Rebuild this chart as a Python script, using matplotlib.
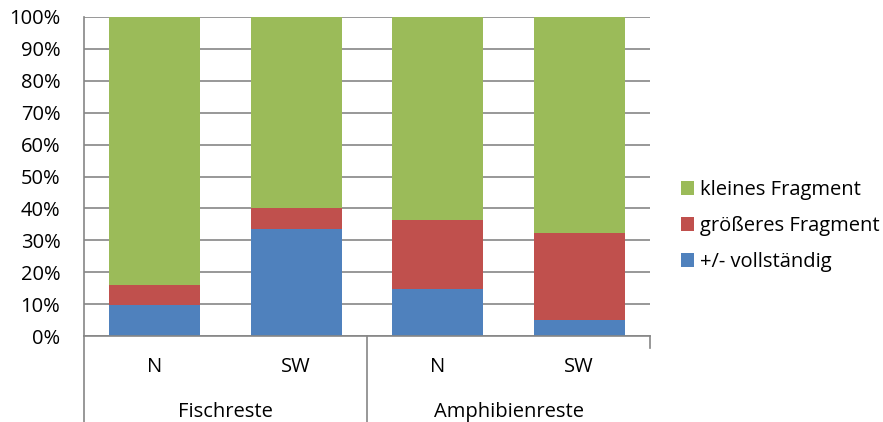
import matplotlib
matplotlib.use('Agg')
import matplotlib.pyplot as plt
from matplotlib.lines import Line2D

# dados
gruppen = ['Fischreste', 'Amphibienreste']
orte = ['N', 'SW', 'N', 'SW']
vollstaendig = [9.6, 33.6, 14.6, 4.9]
groesser = [6.3, 6.6, 21.9, 27.3]
klein = [84.1, 59.8, 63.5, 67.8]

cor_azul = '#4F81BD'
cor_verm = '#C0504D'
cor_verde = '#9BBB59'
cor_grade = '#868686'
fs = 14.5

plt.rcParams['font.family'] = ['Open Sans', 'DejaVu Sans']

fig = plt.figure(figsize=(8.83, 4.22), dpi=100)
ax = fig.add_axes([84 / 883, 1 - 336 / 422, 566 / 883, 319 / 422])

x = list(range(len(orte)))
larg = 0.64
base2 = [a + b for a, b in zip(vollstaendig, groesser)]
ax.bar(x, vollstaendig, larg, color=cor_azul, label='+/- vollständig', zorder=2)
ax.bar(x, groesser, larg, bottom=vollstaendig, color=cor_verm, label='größeres Fragment', zorder=2)
ax.bar(x, klein, larg, bottom=base2, color=cor_verde, label='kleines Fragment', zorder=2)

ax.set_xlim(-0.5, 3.5)
ax.set_ylim(0, 100)
ax.set_yticks(range(0, 101, 10))
ax.set_yticklabels([f'{v}%' for v in range(0, 101, 10)], fontsize=fs)
ax.yaxis.grid(True, color=cor_grade, linewidth=1.2, zorder=0)
ax.set_axisbelow(True)
ax.tick_params(axis='y', length=0, pad=17)
ax.set_xticks([])

for lado in ['top', 'right']:
    ax.spines[lado].set_visible(False)
ax.spines['left'].set_color(cor_grade)
ax.spines['bottom'].set_color(cor_grade)
ax.spines['left'].set_linewidth(1.2)
ax.spines['bottom'].set_linewidth(1.2)

# eixo de categorias em dois niveis
tr = ax.get_xaxis_transform()
y_fundo = -(422 - 336) / 319
for xl, y0 in [(-0.5, y_fundo), (1.5, y_fundo), (3.5, -12 / 319)]:
    ax.add_line(Line2D([xl, xl], [0, y0], transform=tr, color=cor_grade,
                       linewidth=1.2, clip_on=False))

for xi, nome in zip(x, orte):
    ax.text(xi, -31 / 319, nome, transform=tr, ha='center', va='center', fontsize=fs)
for i, g in enumerate(gruppen):
    ax.text(2 * i + 0.5, -76 / 319, g, transform=tr, ha='center', va='center', fontsize=fs)

handles, labels = ax.get_legend_handles_labels()
ax.legend(handles[::-1], labels[::-1], loc='center left',
          bbox_to_anchor=((681 - 84) / 566, (336 - 226) / 319),
          frameon=False, fontsize=fs, handlelength=0.65, handleheight=0.65,
          handletextpad=0.3, labelspacing=0.8, borderpad=0, borderaxespad=0)

plt.savefig('out.png', dpi=100)
plt.close()
